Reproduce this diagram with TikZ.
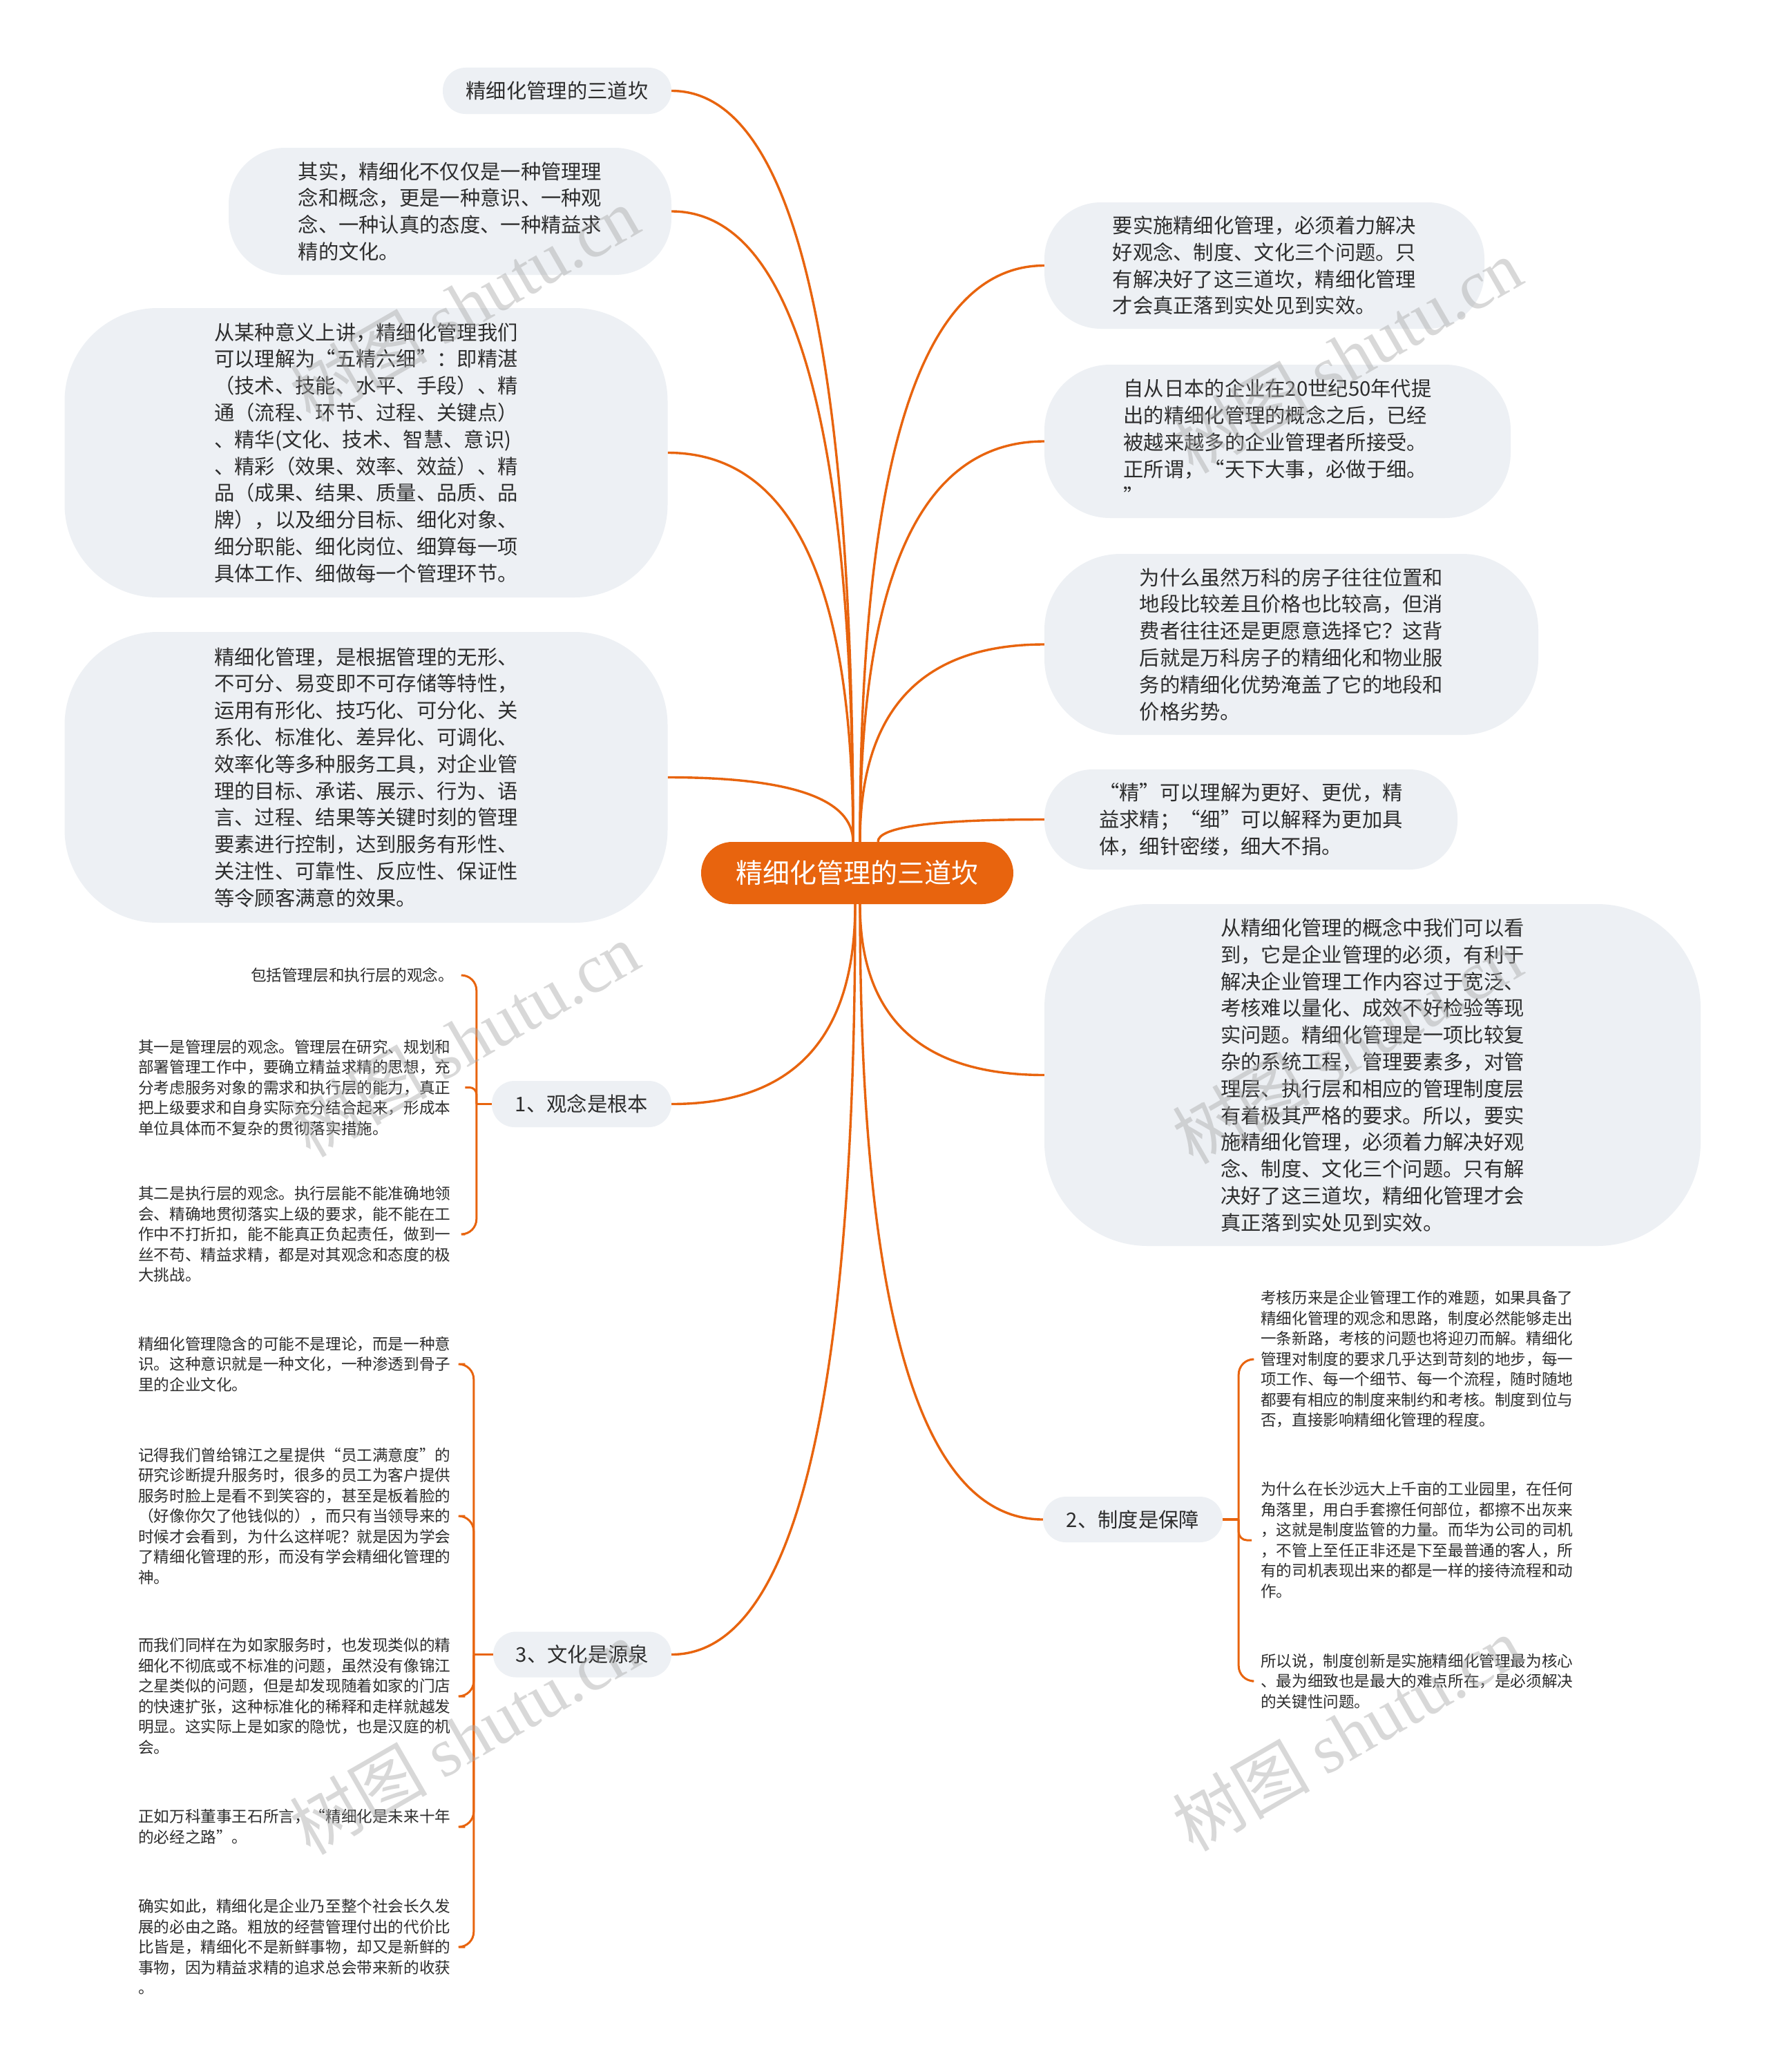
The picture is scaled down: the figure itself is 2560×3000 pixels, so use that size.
\documentclass[tikz,border=0pt]{standalone}
\usepackage{fontspec}
\setmainfont{Noto Sans CJK SC}
\newfontfamily\wmlatin{Liberation Serif}
\usetikzlibrary{calc}
\pgfdeclarelayer{background}
\pgfdeclarelayer{foreground}
\pgfsetlayers{background,main,foreground}
\definecolor{brand}{RGB}{232,100,14}
\definecolor{boxfill}{RGB}{237,240,244}
\definecolor{ink}{RGB}{45,45,45}
\definecolor{wm}{RGB}{170,170,170}
\tikzset{
  conn/.style={draw=brand, line width=3.4pt},
  brk/.style={draw=brand, line width=3pt, rounded corners=#1},
  brk/.default=22pt,
  mm/.style={to path={.. controls ($(\tikztostart)!0.667!(\tikztostart|-\tikztotarget)$) and ($(\tikztotarget)!0.667!(\tikztostart|-\tikztotarget)$) .. (\tikztotarget)}},
  topic/.style={font=\fontsize{29.3}{38.8}\selectfont, text=ink, align=left, fill=boxfill, inner sep=0pt},
  smalltxt/.style={font=\fontsize{22.6}{29.5}\selectfont, text=ink, align=left, inner sep=0pt, text width=460pt},
  rootnode/.style={font=\fontsize{39}{44}\selectfont, text=white, fill=brand, inner sep=0pt, rounded corners=45pt},
  wmark/.style={text=wm, opacity=0.45, rotate=30, font=\fontsize{100}{100}\selectfont, inner sep=0pt}
}
\begin{document}
\begin{tikzpicture}[x=1pt,y=-1pt]
\useasboundingbox (0,0) rectangle (2560,3000);

% root
\node[rootnode, minimum width=452pt, minimum height=90pt] (ctr) at (1241,1264) {精细化管理的三道坎};

% left topics
\node[topic, minimum width=331pt, minimum height=67pt, rounded corners=33pt] (A) at (806.5,131.5) {精细化管理的三道坎};
\node[topic, minimum width=641pt, minimum height=184pt, rounded corners=82pt] (B) at (651.5,306) {其实，精细化不仅仅是一种管理理\\念和概念，更是一种意识、一种观\\念、一种认真的态度、一种精益求\\精的文化。};
\node[topic, minimum width=873pt, minimum height=419pt, rounded corners=135pt] (C) at (530,655.5) {从某种意义上讲，精细化管理我们\\可以理解为“五精六细”：即精湛\\（技术、技能、水平、手段）、精\\通（流程、环节、过程、关键点）\\、精华(文化、技术、智慧、意识)\\、精彩（效果、效率、效益）、精\\品（成果、结果、质量、品质、品\\牌），以及细分目标、细化对象、\\细分职能、细化岗位、细算每一项\\具体工作、细做每一个管理环节。};
\node[topic, minimum width=873pt, minimum height=421pt, rounded corners=135pt] (D) at (530,1125.5) {精细化管理，是根据管理的无形、\\不可分、易变即不可存储等特性，\\运用有形化、技巧化、可分化、关\\系化、标准化、差异化、可调化、\\效率化等多种服务工具，对企业管\\理的目标、承诺、展示、行为、语\\言、过程、结果等关键时刻的管理\\要素进行控制，达到服务有形性、\\关注性、可靠性、反应性、保证性\\等令顾客满意的效果。};
\node[topic, minimum width=260pt, minimum height=67pt, rounded corners=33pt] (E) at (842,1598.5) {1、观念是根本};
\node[topic, minimum width=258pt, minimum height=66pt, rounded corners=33pt] (F) at (843,2395.5) {3、文化是源泉};

% right topics
\node[topic, minimum width=637pt, minimum height=183pt, rounded corners=82pt] (G) at (1830.5,384.5) {要实施精细化管理，必须着力解决\\好观念、制度、文化三个问题。只\\有解决好了这三道坎，精细化管理\\才会真正落到实处见到实效。};
\node[topic, minimum width=675pt, minimum height=222pt, rounded corners=95pt] (H) at (1849.5,639) {自从日本的企业在20世纪50年代提\\出的精细化管理的概念之后，已经\\被越来越多的企业管理者所接受。\\正所谓，“天下大事，必做于细。\\”};
\node[topic, minimum width=715pt, minimum height=262pt, rounded corners=110pt] (I) at (1869.5,933) {为什么虽然万科的房子往往位置和\\地段比较差且价格也比较高，但消\\费者往往还是更愿意选择它？这背\\后就是万科房子的精细化和物业服\\务的精细化优势淹盖了它的地段和\\价格劣势。};
\node[topic, minimum width=598pt, minimum height=145pt, rounded corners=70pt] (J) at (1811,1186.5) {“精”可以理解为更好、更优，精\\益求精；“细”可以解释为更加具\\体，细针密缕，细大不捐。};
\node[topic, minimum width=950pt, minimum height=495pt, rounded corners=150pt] (K) at (1987,1556.5) {从精细化管理的概念中我们可以看\\到，它是企业管理的必须，有利于\\解决企业管理工作内容过于宽泛、\\考核难以量化、成效不好检验等现\\实问题。精细化管理是一项比较复\\杂的系统工程，管理要素多，对管\\理层、执行层和相应的管理制度层\\有着极其严格的要求。所以，要实\\施精细化管理，必须着力解决好观\\念、制度、文化三个问题。只有解\\决好了这三道坎，精细化管理才会\\真正落到实处见到实效。};
\node[topic, minimum width=260pt, minimum height=66pt, rounded corners=33pt] (L) at (1640,2200) {2、制度是保障};

% children of E
\node[smalltxt, align=right, anchor=east] (e1) at (657,1412) {包括管理层和执行层的观念。};
\node[smalltxt, anchor=west] (e2) at (200,1574.5) {其一是管理层的观念。管理层在研究、规划和\\部署管理工作中，要确立精益求精的思想，充\\分考虑服务对象的需求和执行层的能力，真正\\把上级要求和自身实际充分结合起来，形成本\\单位具体而不复杂的贯彻落实措施。};
\node[smalltxt, anchor=west] (e3) at (200,1787) {其二是执行层的观念。执行层能不能准确地领\\会、精确地贯彻落实上级的要求，能不能在工\\作中不打折扣，能不能真正负起责任，做到一\\丝不苟、精益求精，都是对其观念和态度的极\\大挑战。};

% children of F
\node[smalltxt, anchor=west] (f1) at (200,1975) {精细化管理隐含的可能不是理论，而是一种意\\识。这种意识就是一种文化，一种渗透到骨子\\里的企业文化。};
\node[smalltxt, anchor=west] (f2) at (200,2195) {记得我们曾给锦江之星提供“员工满意度”的\\研究诊断提升服务时，很多的员工为客户提供\\服务时脸上是看不到笑容的，甚至是板着脸的\\（好像你欠了他钱似的），而只有当领导来的\\时候才会看到，为什么这样呢？就是因为学会\\了精细化管理的形，而没有学会精细化管理的\\神。};
\node[smalltxt, anchor=west] (f3) at (200,2456) {而我们同样在为如家服务时，也发现类似的精\\细化不彻底或不标准的问题，虽然没有像锦江\\之星类似的问题，但是却发现随着如家的门店\\的快速扩张，这种标准化的稀释和走样就越发\\明显。这实际上是如家的隐忧，也是汉庭的机\\会。};
\node[smalltxt, anchor=west] (f4) at (200,2645) {正如万科董事王石所言，“精细化是未来十年\\的必经之路”。};
\node[smalltxt, anchor=west] (f5) at (200,2819) {确实如此，精细化是企业乃至整个社会长久发\\展的必由之路。粗放的经营管理付出的代价比\\比皆是，精细化不是新鲜事物，却又是新鲜的\\事物，因为精益求精的追求总会带来新的收获\\。};

% children of L
\node[smalltxt, anchor=west] (l1) at (1825,1968) {考核历来是企业管理工作的难题，如果具备了\\精细化管理的观念和思路，制度必然能够走出\\一条新路，考核的问题也将迎刃而解。精细化\\管理对制度的要求几乎达到苛刻的地步，每一\\项工作、每一个细节、每一个流程，随时随地\\都要有相应的制度来制约和考核。制度到位与\\否，直接影响精细化管理的程度。};
\node[smalltxt, anchor=west] (l2) at (1825,2230) {为什么在长沙远大上千亩的工业园里，在任何\\角落里，用白手套擦任何部位，都擦不出灰来\\，这就是制度监管的力量。而华为公司的司机\\，不管上至任正非还是下至最普通的客人，所\\有的司机表现出来的都是一样的接待流程和动\\作。};
\node[smalltxt, anchor=west] (l3) at (1825,2434) {所以说，制度创新是实施精细化管理最为核心\\、最为细致也是最大的难点所在，是必须解决\\的关键性问题。};

\begin{pgfonlayer}{background}
\fill[white] (0,0) rectangle (2560,3000);
\coordinate (tl) at ([xshift=-6pt]ctr.north);
\coordinate (tr) at ([xshift=4pt]ctr.north);
\coordinate (bl) at ([xshift=-3pt]ctr.south);
\coordinate (br) at ([xshift=4pt]ctr.south);
\draw[conn] (tl) to[mm] (A.east);
\draw[conn] (tl) to[mm] (B.east);
\draw[conn] (tl) to[mm] (C.east);
\draw[conn] (tl) to[mm] (D.east);
\draw[conn] (tr) to[mm] (G.west);
\draw[conn] (tr) to[mm] (H.west);
\draw[conn] (tr) to[mm] (I.west);
\draw[conn] ([xshift=30pt]ctr.north) to[mm] (J.west);
\draw[conn] (br) to[mm] (K.west);
\draw[conn] (bl) to[mm] (E.east);
\draw[conn] (bl) to[mm] (F.east);
\draw[conn] (br) to[mm] (L.west);

% bracket of E
\coordinate (eb) at ([xshift=-22pt]E.west);
\draw[conn] (E.west) -- (eb);
\draw[brk] (eb) |- ([xshift=13pt]e1.east);
\draw[brk=10pt] (eb) |- ([xshift=13pt]e2.east);
\draw[brk] (eb) |- ([xshift=13pt]e3.east);
% bracket of F
\coordinate (fb) at ([xshift=-28pt]F.west);
\draw[conn] (F.west) -- (fb);
\draw[brk] (fb) |- ([xshift=13pt]f1.east);
\draw[brk] (fb) |- ([xshift=13pt]f2.east);
\draw[brk] (fb) |- ([xshift=13pt]f3.east);
\draw[brk] (fb) |- ([xshift=13pt]f4.east);
\draw[brk] (fb) |- ([xshift=13pt]f5.east);
% bracket of L
\coordinate (lb) at ([xshift=23pt]L.east);
\draw[conn] (L.east) -- (lb);
\draw[brk] (lb) |- ([xshift=-13pt]l1.west);
\draw[brk=12pt] (lb) |- ([xshift=-13pt]l2.west);
\draw[brk] (lb) |- ([xshift=-13pt]l3.west);
\end{pgfonlayer}

\begin{pgfonlayer}{foreground}
\node[wmark] (w1) at (672,440) {树图 {\wmlatin shutu.cn}};
\node[wmark] (w2) at (1950,515) {树图 {\wmlatin shutu.cn}};
\node[wmark] (w3) at (672,1505) {树图 {\wmlatin shutu.cn}};
\node[wmark] (w4) at (1950,1515) {树图 {\wmlatin shutu.cn}};
\node[wmark] (w5) at (672,2515) {树图 {\wmlatin shutu.cn}};
\node[wmark] (w6) at (1950,2510) {树图 {\wmlatin shutu.cn}};
\end{pgfonlayer}
\end{tikzpicture}
\end{document}
